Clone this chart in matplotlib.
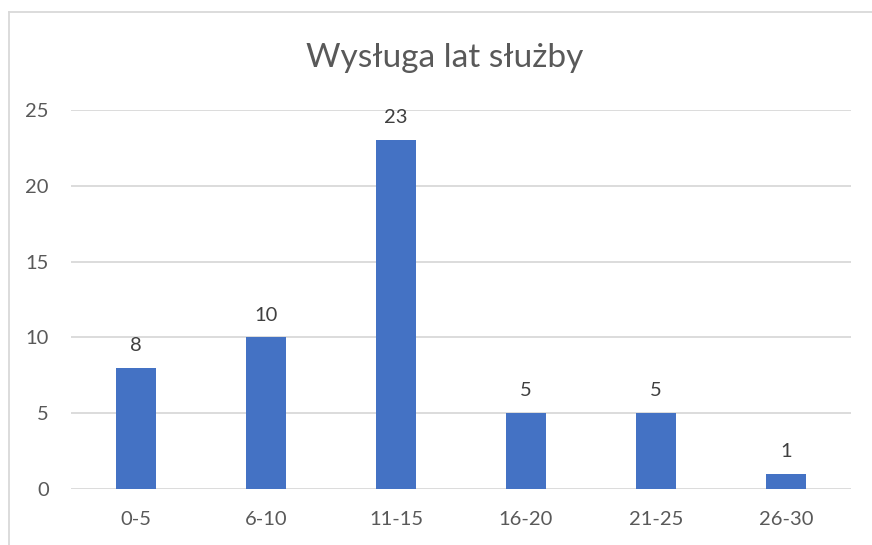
import matplotlib.pyplot as plt
from matplotlib.lines import Line2D

# data
kategorie = ['0-5', '6-10', '11-15', '16-20', '21-25', '26-30']
liczba = [8, 10, 23, 5, 5, 1]
ticki_y = [0, 5, 10, 15, 20, 25]

plt.rcParams['font.family'] = ['Lato', 'DejaVu Sans']

fig = plt.figure(figsize=(8.72, 5.45), dpi=100)
W, H = 872, 545
# plot area: x 71..851 px, y 110..489 px (25 -> 0)
ax = fig.add_axes([71 / W, 1 - 489 / H, 780 / W, 379 / H])

x = range(len(kategorie))
bars = ax.bar(x, liczba, width=0.315, color='#4472C4', zorder=3)
for xi, v in zip(x, liczba):
    ax.annotate(str(v), (xi, v), xytext=(0, 10), textcoords='offset points',
                ha='center', va='bottom', fontsize=14.5, color='#404040')

ax.set_xlim(-0.5, len(kategorie) - 0.5)
ax.set_ylim(0, 25)
ax.set_yticks(ticki_y)
ax.set_xticks(list(x))
ax.set_xticklabels(kategorie)
ax.yaxis.grid(True, color='#D9D9D9', linewidth=1.3, zorder=0)
for s in ax.spines.values():
    s.set_visible(False)
ax.tick_params(axis='both', length=0, labelsize=14.5, labelcolor='#595959')
ax.tick_params(axis='y', pad=16)
ax.tick_params(axis='x', pad=16)

fig.text(445 / W, 1 - 58 / H, 'Wysługa lat służby', ha='center', va='center',
         fontsize=24, color='#595959')

# chart frame (left and top edges visible)
fig.add_artist(Line2D([9 / W, 9 / W], [0, 1 - 12 / H], color='#D9D9D9', lw=1.3,
                      transform=fig.transFigure))
fig.add_artist(Line2D([9 / W, 1], [1 - 12 / H, 1 - 12 / H], color='#D9D9D9', lw=1.3,
                      transform=fig.transFigure))

fig.savefig('out.png', dpi=100, facecolor='white')
